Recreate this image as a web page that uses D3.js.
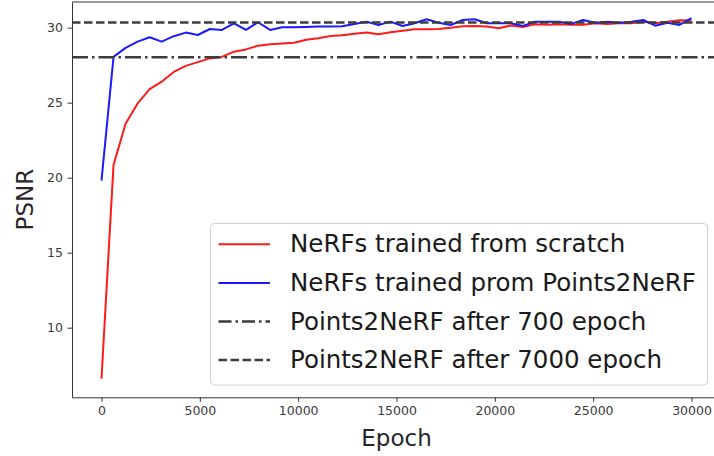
<!DOCTYPE html>
<html>
<head>
<meta charset="utf-8">
<script src="https://cdn.jsdelivr.net/npm/d3@7"></script>
<style>
    body { margin: 0; background: #fff; }
    svg { display: block; font-family: "DejaVu Sans", sans-serif; }
    .axis path, .axis line { stroke: #333; stroke-width: 1; }
    .axis text { fill: #3a3a3a; font-size: 12.5px; }
    .titre { fill: #262626; font-size: 23px; }
    .legende { fill: #1a1a1a; font-size: 24.5px; }
</style>
</head>
<body>
<div id="chart"></div>
<script>
/*global d3*/

// epochs (50 points between 0 and 30000)
var epochs = [0, 612, 1224, 1837, 2449, 3061, 3673, 4286, 4898, 5510,
    6122, 6735, 7347, 7959, 8571, 9184, 9796, 10408, 11020, 11633,
    12245, 12857, 13469, 14082, 14694, 15306, 15918, 16531, 17143, 17755,
    18367, 18980, 19592, 20204, 20816, 21429, 22041, 22653, 23265, 23878,
    24490, 25102, 25714, 26327, 26939, 27551, 28163, 28776, 29388, 30000];

var scratch = [6.6, 20.85, 23.6, 24.95, 25.9, 26.4, 27.05, 27.45, 27.7, 27.95,
    28.05, 28.4, 28.55, 28.8, 28.9, 28.95, 29.0, 29.2, 29.3, 29.45,
    29.5, 29.6, 29.67, 29.56, 29.69, 29.8, 29.89, 29.9, 29.91, 30.0,
    30.1, 30.11, 30.07, 29.96, 30.15, 30.05, 30.22, 30.2, 30.22, 30.2,
    30.2, 30.3, 30.25, 30.3, 30.3, 30.4, 30.3, 30.4, 30.5, 30.47];

var points2nerf = [19.8, 28.05, 28.65, 29.07, 29.36, 29.07, 29.43, 29.67, 29.51, 29.91,
    29.85, 30.29, 29.85, 30.36, 29.85, 30.03, 30.03, 30.05, 30.07, 30.07,
    30.1, 30.25, 30.4, 30.18, 30.4, 30.11, 30.29, 30.56, 30.33, 30.18,
    30.51, 30.56, 30.29, 30.29, 30.29, 30.11, 30.4, 30.4, 30.4, 30.25,
    30.51, 30.33, 30.4, 30.33, 30.4, 30.51, 30.13, 30.33, 30.18, 30.63];

var after700 = 28.03,
    after7000 = 30.35;

var labels = ["NeRFs trained from scratch", "NeRFs trained prom Points2NeRF",
    "Points2NeRF after 700 epoch", "Points2NeRF after 7000 epoch"];

var xTicks = [0, 5000, 10000, 15000, 20000, 25000, 30000],
    yTicks = [10, 15, 20, 25, 30];

(function () {
    "use strict";

    var widthGlobal = 714,
        heightGlobal = 456,
        margin = {top: 2, right: -7, bottom: 58.7, left: 72},
        width = widthGlobal - margin.left - margin.right,
        height = heightGlobal - margin.top - margin.bottom,

        x = d3.scaleLinear().domain([-1500, 31500]).range([0, width]),
        y = d3.scaleLinear().domain([5.36, 31.71]).range([height, 0]),

        svg = d3.select("#chart").append("svg")
        .attr("width", widthGlobal)
        .attr("height", heightGlobal),

        g = svg.append("g")
        .attr("transform", "translate(" + margin.left + "," + margin.top + ")");

    var series = [
        { values: scratch, color: "#ff1a1a" },
        { values: points2nerf, color: "#1a1aff" }
    ];

    var line = d3.line()
        .x(function (d, i) { return x(epochs[i]); })
        .y(function (d) { return y(d); });

    series.forEach(function (s) {
        g.append("path")
            .datum(s.values)
            .attr("fill", "none")
            .attr("stroke", s.color)
            .attr("stroke-width", 2)
            .attr("stroke-linejoin", "round")
            .attr("d", line);
    });

    // lignes de reference
    var hlines = [
        { v: after700, dash: "16,4,2.5,4" },
        { v: after7000, dash: "8.5,3.5" }
    ];
    hlines.forEach(function (h) {
        g.append("line")
            .attr("x1", 0).attr("x2", width)
            .attr("y1", y(h.v)).attr("y2", y(h.v))
            .attr("stroke", "#3c3c3c")
            .attr("stroke-width", 2.5)
            .attr("stroke-dasharray", h.dash);
    });

    // axes
    g.append("g")
        .attr("class", "x axis")
        .attr("transform", "translate(0," + height + ")")
        .call(d3.axisBottom(x).tickValues(xTicks).tickFormat(d3.format("d"))
            .tickSizeInner(4.5).tickSizeOuter(0).tickPadding(4));
    g.append("g")
        .attr("class", "y axis")
        .call(d3.axisLeft(y).tickValues(yTicks)
            .tickSizeInner(4.5).tickSizeOuter(0).tickPadding(4.5));
    g.append("line")
        .attr("x1", 0).attr("x2", width).attr("y1", 0).attr("y2", 0)
        .attr("stroke", "#333");
    g.selectAll(".axis text").attr("font-family", "DejaVu Sans");

    // titres des axes
    svg.append("text")
        .attr("class", "titre")
        .attr("x", margin.left + width / 2)
        .attr("y", 446)
        .attr("text-anchor", "middle")
        .text("Epoch");
    svg.append("text")
        .attr("class", "titre")
        .attr("transform", "translate(32.5," + (margin.top + height / 2) + ") rotate(-90)")
        .attr("text-anchor", "middle")
        .text("PSNR");

    // legende
    var leg = svg.append("g");
    leg.append("rect")
        .attr("x", 210.5).attr("y", 223.5)
        .attr("width", 497).attr("height", 161.5)
        .attr("rx", 4)
        .attr("fill", "#fff").attr("fill-opacity", 0.8)
        .attr("stroke", "#d0d0d0");

    var styles = [
        { color: "#ff1a1a", dash: null, w: 2 },
        { color: "#1a1aff", dash: null, w: 2 },
        { color: "#3c3c3c", dash: "13,4,2.5,4", w: 2.5 },
        { color: "#3c3c3c", dash: "8.5,3.5", w: 2.5 }
    ];
    labels.forEach(function (lab, i) {
        var base = 252.3 + i * 38.6;
        leg.append("line")
            .attr("x1", 218.5).attr("x2", 270)
            .attr("y1", base - 8).attr("y2", base - 8)
            .attr("stroke", styles[i].color)
            .attr("stroke-width", styles[i].w)
            .attr("stroke-dasharray", styles[i].dash);
        leg.append("text")
            .attr("class", "legende")
            .attr("x", 290)
            .attr("y", base)
            .text(lab);
    });
}());
</script>
</body>
</html>
